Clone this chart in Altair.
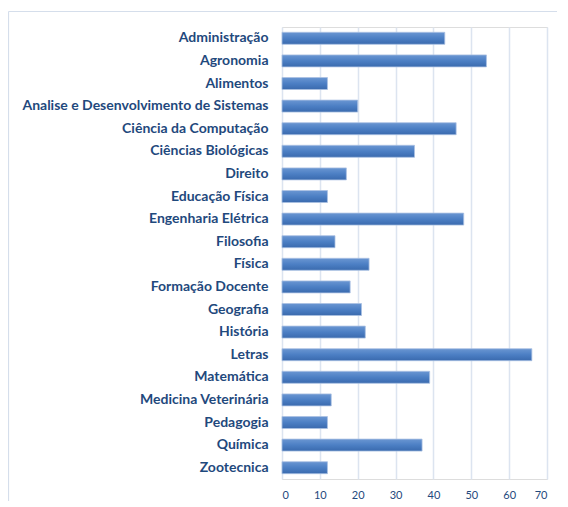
import altair as alt
import pandas as pd

cursos = [
    "Administração", "Agronomia", "Alimentos", "Analise e Desenvolvimento de Sistemas",
    "Ciência da Computação", "Ciências Biológicas", "Direito", "Educação Física",
    "Engenharia Elétrica", "Filosofia", "Física", "Formação Docente", "Geografia",
    "História", "Letras", "Matemática", "Medicina Veterinária", "Pedagogia",
    "Química", "Zootecnica",
]
valores = [43, 54, 12, 20, 46, 35, 17, 12, 48, 14, 23, 18, 21, 22, 66, 39, 13, 12, 37, 12]
x_ticks = [0, 10, 20, 30, 40, 50, 60, 70]

df = pd.DataFrame({"curso": cursos, "valor": valores})

TEXT = "#1F497D"
GRID = "#DCE4F0"

grad = alt.Gradient(
    gradient="linear", x1=0, y1=0, x2=0, y2=1,
    stops=[
        alt.GradientStop(offset=0, color="#6A96D2"),
        alt.GradientStop(offset=0.5, color="#4C7FC4"),
        alt.GradientStop(offset=1, color="#3A6AAE"),
    ],
)

bars = alt.Chart(df).mark_bar(
    color=grad, stroke="#A9C0E2", strokeWidth=0.8
).encode(
    y=alt.Y("curso:N", sort=None, title=None,
            scale=alt.Scale(paddingInner=0.47, paddingOuter=0.235),
            axis=alt.Axis(labelFont="Lato", labelFontSize=14, labelFontWeight="bold",
                          labelColor=TEXT, labelPadding=14, ticks=False, domain=False,
                          grid=False, labelLimit=400)),
    x=alt.X("valor:Q", title=None,
            scale=alt.Scale(domain=[0, 70], nice=False),
            axis=alt.Axis(values=x_ticks, labelFont="Lato", labelFontSize=11,
                          labelColor=TEXT, labelPadding=10, ticks=False,
                          domain=False, grid=True, gridColor=GRID, gridWidth=1.5)),
)

one = pd.DataFrame({"a": [0]})
border_left = alt.Chart(one).mark_rule(color="#D5DEEB", strokeWidth=1.2).encode(
    x=alt.value(-273.5), y=alt.value(-15.5), y2=alt.value(600)
)
border_top = alt.Chart(one).mark_rule(color="#D5DEEB", strokeWidth=1.2).encode(
    x=alt.value(-273.5), x2=alt.value(600), y=alt.value(-15.5)
)

chart = alt.layer(border_left, border_top, bars).properties(
    width=265, height=452,
    autosize=alt.AutoSizeParams(type="none"),
    padding={"left": 274, "top": 19, "right": 10, "bottom": 22},
).configure_view(stroke=None).configure(background="white")

chart.save("out.html", embed_options={"renderer": "svg", "actions": False})
